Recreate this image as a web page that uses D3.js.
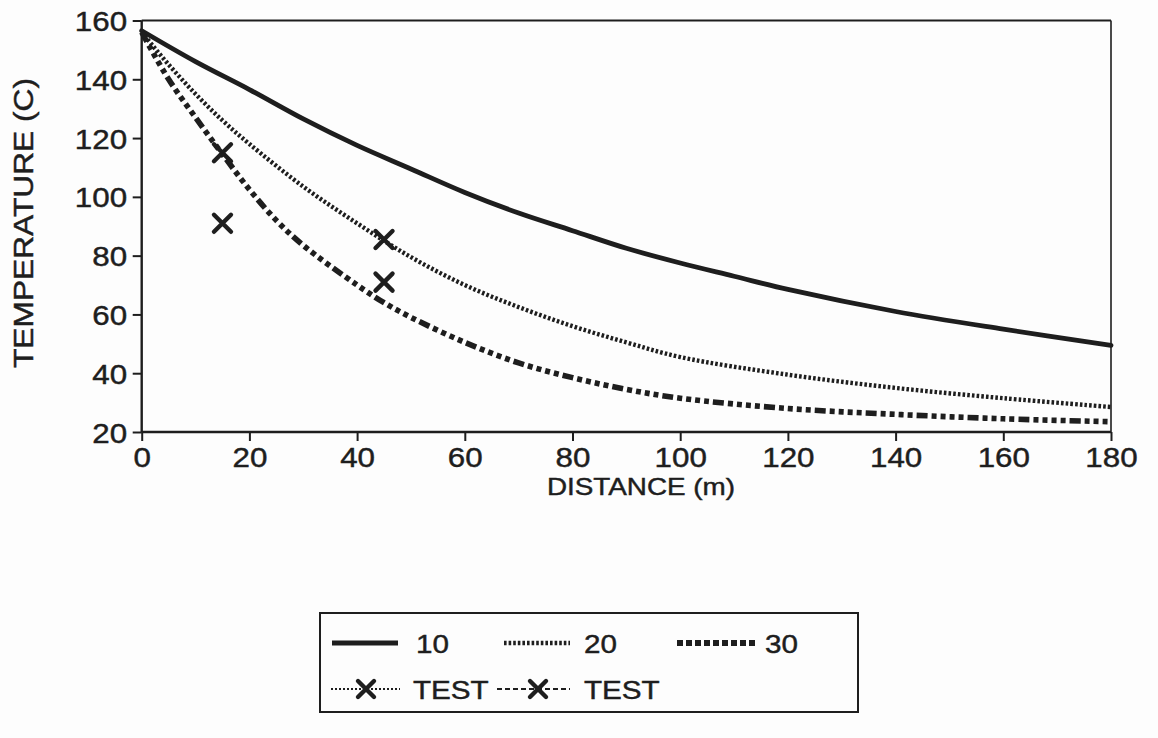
<!DOCTYPE html>
<html>
<head>
<meta charset="utf-8">
<script src="https://cdn.jsdelivr.net/npm/d3@7"></script>
<style>
  html, body { margin: 0; padding: 0; background: #fdfdfd; }
  svg { display: block; }
  text { font-family: "Liberation Sans", Arial, Helvetica, sans-serif; fill: #1e1e1e; stroke: #1e1e1e; stroke-width: 0.45px; }
</style>
</head>
<body>
<svg id="chart" width="1158" height="738"></svg>
<script>
// ---------------- data ----------------
const xTicks = [0, 20, 40, 60, 80, 100, 120, 140, 160, 180];
const yTicks = [20, 40, 60, 80, 100, 120, 140, 160];

const dist10 = [0, 10, 20, 30, 40, 50, 60, 70, 80, 90, 100, 110, 120, 140, 160, 180];
const temp10 = [156.5, 146, 136.5, 126.5, 117.5, 109.5, 101.5, 94.5, 88.5, 82.5, 77.5, 73, 68.5, 61, 55, 49.5];

const dist20 = [0, 5, 10, 15, 20, 30, 40, 50, 60, 70, 80, 90, 100, 120, 140, 160, 180];
const temp20 = [156, 145, 135, 126, 118, 103.5, 91, 79.5, 70, 62.5, 56, 50.5, 45.5, 39.5, 35, 31.5, 28.5];

const dist30 = [0, 5, 10, 15, 20, 25, 30, 40, 45, 50, 60, 70, 80, 90, 100, 120, 140, 160, 180];
const temp30 = [156, 140, 127, 114.5, 102.5, 92, 83.5, 70, 64, 59, 50.5, 43.5, 38.5, 34.5, 31.5, 28, 26, 24.5, 23.5];

const testDist = [15, 45];
const testA = [115, 85.5];
const testB = [91, 71];

const seriesNames = ["10", "20", "30", "TEST", "TEST"];
const xLabel = "DISTANCE (m)";
const yLabel = "TEMPERATURE (C)";

// ---------------- layout ----------------
const svg = d3.select("#chart");
const X0 = 141.7, X1 = 1111, Y0 = 432, Y1 = 20.5;
const x = d3.scaleLinear().domain([0, 180]).range([X0, X1]);
const y = d3.scaleLinear().domain([20, 160]).range([Y0, Y1]);
const ink = "#1e1e1e";

// frame (top + right)
svg.append("line").attr("x1", X0).attr("x2", X1).attr("y1", Y1).attr("y2", Y1)
  .attr("stroke", ink).attr("stroke-width", 2);
svg.append("line").attr("x1", X1).attr("x2", X1).attr("y1", Y1).attr("y2", Y0)
  .attr("stroke", ink).attr("stroke-width", 1.6);

// axes
const gx = svg.append("g").attr("transform", `translate(0,${Y0})`)
  .call(d3.axisBottom(x).tickValues(xTicks).tickSize(9).tickPadding(6).tickFormat(d3.format("d")));
const gy = svg.append("g").attr("transform", `translate(${X0},0)`)
  .call(d3.axisLeft(y).tickValues(yTicks).tickSize(9).tickPadding(4).tickFormat(d3.format("d")));

[gx, gy].forEach(g => {
  g.attr("font-size", null).attr("font-family", null);
  g.select(".domain").attr("stroke", ink).attr("stroke-width", 2.4);
  g.selectAll(".tick line").attr("stroke", ink).attr("stroke-width", 2);
  g.selectAll(".tick text").attr("font-size", 28).attr("fill", ink);
});
gx.selectAll(".tick text").attr("transform", "scale(1.12,1)");
gy.selectAll(".tick text").attr("dy", "0.36em").attr("transform", "scale(1.12,1)");
gy.select(".domain").attr("d", `M-0,${Y0}V${Y1}`);
gx.select(".domain").attr("d", `M${X0},0H${X1}`);

// axis titles
svg.append("text").attr("x", 641).attr("y", 495).attr("text-anchor", "middle")
  .attr("font-size", 24).attr("textLength", 188).attr("lengthAdjust", "spacingAndGlyphs")
  .text(xLabel);
svg.append("text").attr("transform", "translate(33,223) rotate(-90)").attr("text-anchor", "middle")
  .attr("font-size", 27).attr("textLength", 290).attr("lengthAdjust", "spacingAndGlyphs")
  .text(yLabel);

// line styles
const styles = [
  { w: 4.8, dash: null, cap: "round" },
  { w: 4.4, dash: "2.6,2.1", cap: "butt" },
  { w: 5.6, dash: "11,4,5,4,5,4,5,4,5,4", cap: "butt" }
];

const line = d3.line().x(d => x(d[0])).y(d => y(d[1])).curve(d3.curveCatmullRom.alpha(0.5));
const seriesData = [
  d3.zip(dist10, temp10),
  d3.zip(dist20, temp20),
  d3.zip(dist30, temp30)
];
seriesData.forEach((pts, i) => {
  svg.append("path").attr("d", line(pts)).attr("fill", "none")
    .attr("stroke", ink).attr("stroke-width", styles[i].w)
    .attr("stroke-dasharray", styles[i].dash)
    .attr("stroke-linecap", styles[i].cap)
    .attr("stroke-linejoin", "round");
});

// test markers
function xMark(g, cx, cy, s, w) {
  g.append("path").attr("d", `M${cx - s},${cy - s}L${cx + s},${cy + s}M${cx - s},${cy + s}L${cx + s},${cy - s}`)
    .attr("stroke", ink).attr("stroke-width", w).attr("fill", "none").attr("stroke-linecap", "round");
}
[testA, testB].forEach(vals => {
  vals.forEach((v, i) => xMark(svg, x(testDist[i]), y(v), 8.5, 4.4));
});

// legend
const lg = svg.append("g");
lg.append("rect").attr("x", 320).attr("y", 613).attr("width", 538).attr("height", 99)
  .attr("fill", "none").attr("stroke", ink).attr("stroke-width", 2);

const legItems = [
  { x0: 332, x1: 398, tx: 416, yy: 643, w: 5, dash: null },
  { x0: 504, x1: 570, tx: 584, yy: 643, w: 4.4, dash: "2.6,2" },
  { x0: 677, x1: 757, tx: 765, yy: 643, w: 5.8, dash: "6,3" },
  { x0: 331, x1: 400, tx: 413, yy: 689, w: 2, dash: "2,2", mx: 366 },
  { x0: 497, x1: 570, tx: 584, yy: 689, w: 2, dash: "5,3", mx: 538 }
];
legItems.forEach((it, i) => {
  lg.append("line").attr("x1", it.x0).attr("x2", it.x1).attr("y1", it.yy).attr("y2", it.yy)
    .attr("stroke", ink).attr("stroke-width", it.w).attr("stroke-dasharray", it.dash);
  if (it.mx) xMark(lg, it.mx, it.yy, 8, 4.4);
  lg.append("text").attr("transform", `translate(${it.tx},${it.yy + 10}) scale(1.14,1)`)
    .attr("font-size", 26).text(seriesNames[i]);
});
</script>
</body>
</html>
